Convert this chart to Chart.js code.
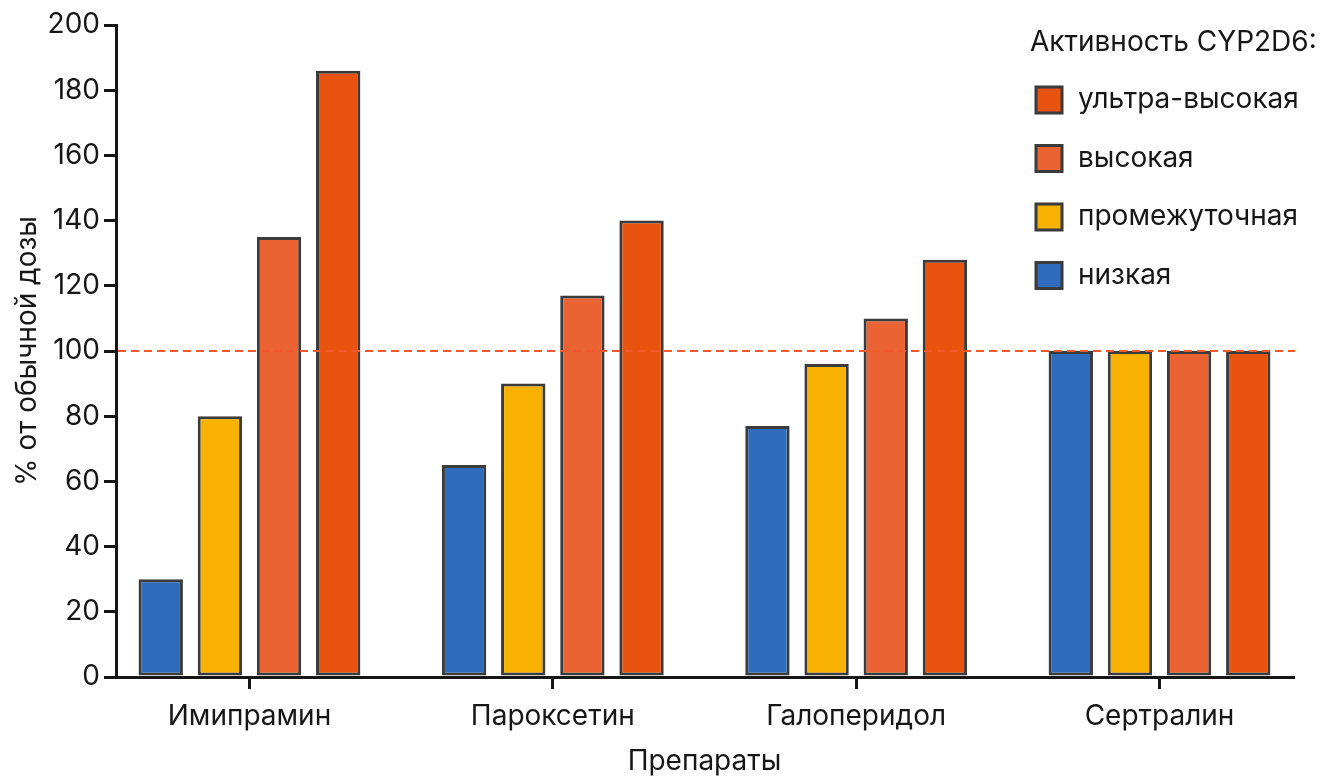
<!DOCTYPE html>
<html>
<head>
<meta charset="utf-8">
<script src="https://cdn.jsdelivr.net/npm/chart.js@4/dist/chart.umd.min.js"></script>
<style>
  html, body { margin: 0; padding: 0; background: #fff; }
  #wrap { width: 1324px; height: 776px; }
</style>
</head>
<body>
<div id="wrap"><canvas id="chart" width="1324" height="776"></canvas></div>
<script>
'use strict';

// Data
const categories = ['Имипрамин', 'Пароксетин', 'Галоперидол', 'Сертралин'];
const lowValues = [30, 65, 77, 100];
const midValues = [80, 90, 96, 100];
const highValues = [135, 117, 110, 100];
const ultraValues = [186, 140, 128, 100];
const seriesNames = ['низкая', 'промежуточная', 'высокая', 'ультра-высокая'];
const seriesColors = ['#2f6cbb', '#f8b302', '#eb6333', '#e8530f'];
const yTicks = [0, 20, 40, 60, 80, 100, 120, 140, 160, 180, 200];
const refLine = 100;

const FONT = 'Inter, "Noto Sans", sans-serif';
const INK = '#161616';
const EDGE = '#3b3b3b';

function toPoints(values) {
    return values.map((v, i) => ({ x: i, y: v }));
}

const refLinePlugin = {
    id: 'refLine',
    afterDatasetsDraw(chart) {
        const { ctx, chartArea, scales } = chart;
        const y = scales.y.getPixelForValue(refLine);
        ctx.save();
        ctx.strokeStyle = '#f0592b';
        ctx.lineWidth = 2;
        ctx.setLineDash([8, 5]);
        ctx.beginPath();
        ctx.moveTo(chartArea.left + 2, y);
        ctx.lineTo(chartArea.right + 2, y);
        ctx.stroke();
        ctx.restore();
    }
};

// legend sits inside the plot, top right, in reverse order
const legendPlugin = {
    id: 'sideLegend',
    afterDraw(chart) {
        const { ctx } = chart;
        ctx.save();
        ctx.fillStyle = INK;
        ctx.font = '28px ' + FONT;
        ctx.textBaseline = 'middle';
        ctx.textAlign = 'left';
        ctx.fillText('Активность CYP2D6:', 1030, 43);
        const order = [3, 2, 1, 0];
        order.forEach((k, row) => {
            const cy = 100 + row * 58.5;
            ctx.fillStyle = seriesColors[k];
            ctx.fillRect(1036, cy - 13, 26, 26);
            ctx.strokeStyle = EDGE;
            ctx.lineWidth = 3;
            ctx.strokeRect(1036, cy - 13, 26, 26);
            ctx.fillStyle = INK;
            ctx.fillText(seriesNames[k], 1078, cy);
        });
        ctx.restore();
    }
};

const valueSets = [lowValues, midValues, highValues, ultraValues];

new Chart(document.getElementById('chart'), {
    type: 'bar',
    data: {
        datasets: valueSets.map((vals, k) => ({
            label: seriesNames[k],
            data: toPoints(vals),
            backgroundColor: seriesColors[k],
            borderColor: EDGE,
            borderWidth: 3,
            borderSkipped: false,
            categoryPercentage: 0.78,
            barPercentage: 0.75
        }))
    },
    options: {
        responsive: false,
        animation: false,
        layout: { padding: { top: 25, right: 31, left: 0, bottom: 0 } },
        plugins: {
            legend: { display: false },
            tooltip: { enabled: false }
        },
        scales: {
            x: {
                type: 'linear',
                offset: false,
                min: -0.44,
                max: 3.44,
                afterFit(scale) { scale.height = 99; },
                border: { display: true, color: INK, width: 3 },
                grid: { display: true, offset: false, drawOnChartArea: false, drawTicks: true, tickLength: 12, color: INK, lineWidth: 3 },
                ticks: {
                    stepSize: 1,
                    includeBounds: false,
                    autoSkip: false,
                    maxRotation: 0,
                    padding: 11,
                    color: INK,
                    font: { family: FONT, size: 28 },
                    callback: v => categories[v] ?? ''
                },
                title: {
                    display: true,
                    text: 'Препараты',
                    color: INK,
                    font: { family: FONT, size: 28 },
                    padding: { top: 0, bottom: -2 }
                }
            },
            y: {
                min: yTicks[0],
                max: yTicks[yTicks.length - 1],
                afterFit(scale) { scale.width = 116; },
                afterBuildTicks(scale) { scale.ticks = yTicks.map(v => ({ value: v })); },
                border: { display: true, color: INK, width: 3 },
                grid: { display: true, drawOnChartArea: false, drawTicks: true, tickLength: 12, color: INK, lineWidth: 3 },
                ticks: {
                    padding: 4,
                    color: INK,
                    font: { family: FONT, size: 28 }
                },
                title: {
                    display: true,
                    text: '% от обычной дозы',
                    color: INK,
                    font: { family: FONT, size: 28 },
                    padding: { top: 11, bottom: 0 }
                }
            }
        }
    },
    plugins: [refLinePlugin, legendPlugin]
});
</script>
</body>
</html>
